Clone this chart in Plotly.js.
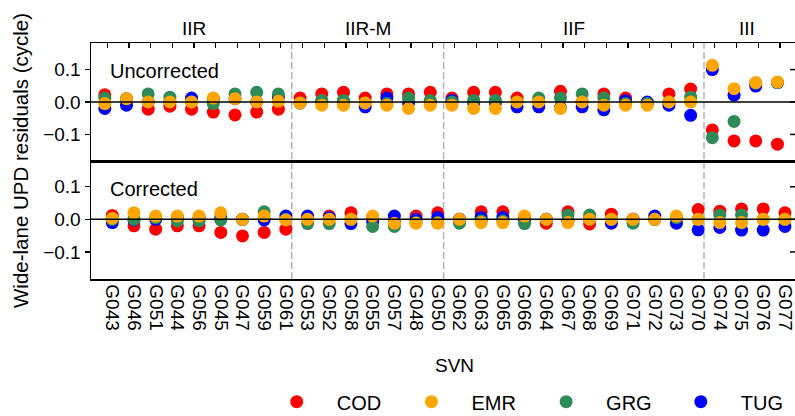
<!DOCTYPE html>
<html><head><meta charset="utf-8">
<script src="https://cdn.plot.ly/plotly-3.0.1.min.js"></script>
<style>html,body{margin:0;padding:0;overflow:hidden;background:#fff}#chart{width:798px;height:416px}</style>
</head><body><div id="chart"></div><script>
// ---- data ----
const svn = ['G043','G046','G051','G044','G056','G045','G047','G059','G061',
             'G053','G052','G058','G055','G057','G048','G050',
             'G062','G063','G065','G066','G064','G067','G068','G069','G071','G072','G073','G070',
             'G074','G075','G076','G077'];
const groupNames = ['IIR','IIR-M','IIF','III'];
const groupSizes = [9, 7, 12, 4];
const seriesNames = ['COD','EMR','GRG','TUG'];

// Uncorrected
const codUnc = [0.022,0.010,-0.022,-0.013,-0.022,-0.031,-0.040,-0.031,-0.022,
                0.012,0.025,0.030,0.012,0.025,0.025,0.030,
                0.012,0.030,0.030,0.012,0.000,0.033,0.000,0.025,0.012,-0.005,0.025,0.040,
                -0.086,-0.120,-0.120,-0.130];
const emrUnc = [-0.005,0.010,0.000,0.000,0.000,0.012,0.010,0.000,0.002,
                -0.003,-0.010,-0.010,-0.003,-0.010,-0.020,-0.010,
                -0.010,-0.020,-0.020,0.000,0.000,-0.020,0.000,-0.010,-0.010,-0.010,0.000,0.000,
                0.113,0.041,0.060,0.062];
const grgUnc = [0.012,0.010,0.025,0.015,0.000,-0.005,0.025,0.030,0.025,
                -0.003,0.005,0.005,-0.003,-0.005,0.012,0.005,
                0.000,0.005,0.005,0.000,0.012,0.012,0.025,0.012,-0.005,-0.005,0.000,0.015,
                -0.110,-0.060,0.058,0.060];
const tugUnc = [-0.020,-0.010,0.000,0.000,0.012,0.010,0.010,0.000,0.015,
                -0.003,0.000,0.000,-0.015,0.012,-0.003,0.000,
                0.005,-0.003,-0.003,-0.015,-0.015,-0.018,-0.015,-0.024,0.004,0.000,-0.010,-0.041,
                0.100,0.021,0.049,0.060];
// Corrected
const codCor = [0.012,-0.020,-0.030,-0.020,-0.020,-0.040,-0.051,-0.040,-0.030,
                0.005,0.010,0.020,0.005,-0.005,0.010,0.020,
                0.000,0.023,0.023,0.005,-0.012,0.023,-0.014,0.016,0.000,0.000,0.005,0.030,
                0.025,0.032,0.032,0.020];
const emrCor = [0.003,0.020,0.010,0.010,0.010,0.020,0.000,0.010,-0.002,
                0.000,0.000,0.000,0.010,-0.012,-0.012,-0.012,
                0.000,-0.010,-0.010,0.010,0.000,-0.010,0.000,0.000,0.000,0.000,0.010,0.000,
                -0.010,-0.010,0.000,0.000];
const grgCor = [0.000,0.000,0.005,-0.005,-0.005,-0.002,0.000,0.023,0.000,
                -0.013,-0.013,0.000,-0.022,-0.022,-0.010,-0.010,
                -0.012,-0.005,-0.005,-0.013,0.000,0.013,0.013,0.000,-0.012,0.000,0.005,0.000,
                0.013,0.013,0.000,0.000];
const tugCor = [-0.010,-0.002,0.000,0.005,0.005,0.005,0.000,-0.002,0.010,
                0.010,0.005,-0.013,-0.007,0.010,0.000,0.006,
                0.000,0.006,0.006,-0.002,0.000,-0.005,0.000,-0.012,0.000,0.010,-0.012,-0.032,
                -0.025,-0.033,-0.033,-0.022];

// ---- style ----
const colors = {COD:'#ff0000', EMR:'#ffa500', GRG:'#2e8b57', TUG:'#0000ff'};
const rank = {COD:1, EMR:2, GRG:3, TUG:4};
const FONT = 'Liberation Sans, Arial, Helvetica, sans-serif';
const unc = {COD:codUnc, EMR:emrUnc, GRG:grgUnc, TUG:tugUnc};
const cor = {COD:codCor, EMR:emrCor, GRG:grgCor, TUG:tugCor};
const drawOrder = ['COD','TUG','GRG','EMR'];

const traces = [];
drawOrder.forEach(n => {
  traces.push({type:'scatter', mode:'markers', name:n, x:svn, y:unc[n], xaxis:'x2', yaxis:'y2',
    marker:{color:colors[n], size:13, line:{width:0}}, legendrank:rank[n], showlegend:true});
});
drawOrder.forEach(n => {
  traces.push({type:'scatter', mode:'markers', name:n, x:svn, y:cor[n], xaxis:'x', yaxis:'y',
    marker:{color:colors[n], size:13, line:{width:0}}, legendrank:rank[n], showlegend:false});
});

const idx = svn.map((_, i) => i);
const yTicks = [-0.1, 0, 0.1];
const axLine = {showline:true, linecolor:'#000', linewidth:1.5, mirror:true, showgrid:false, zeroline:false};

// group boundaries and centres
const bounds = [], centres = [];
let acc = 0;
groupSizes.forEach((s, k) => {
  centres.push(acc + (s - 1) / 2);
  acc += s;
  if (k < groupSizes.length - 1) bounds.push(acc - 0.5);
});

const shapes = [];
bounds.forEach(b => shapes.push({type:'line', xref:'x3', x0:b, x1:b, yref:'paper', y0:0, y1:1,
  line:{color:'#b4b4b4', width:1.5, dash:'7px,3px'}, layer:'below'}));
['y','y2'].forEach(ya => shapes.push({type:'line', xref:'paper', x0:0, x1:1, yref:ya, y0:0, y1:0,
  line:{color:'#000', width:1.5}, layer:'above'}));
// inward ticks on the right spine of both panels
['y','y2'].forEach(ya => yTicks.forEach(t => shapes.push({type:'line', xref:'paper', xsizemode:'pixel',
  xanchor:1, x0:-6, x1:0, yref:ya, y0:t, y1:t, line:{color:'#000', width:1.5}, layer:'above'})));

const annotations = [];
groupNames.forEach((g, k) => annotations.push({text:g, xref:'x3', x:centres[k], xanchor:'center',
  yref:'paper', y:1.062, yanchor:'middle', showarrow:false, font:{size:19}}));
annotations.push({text:'Uncorrected', xref:'paper', x:0.024, xanchor:'left', yref:'y2 domain', y:0.76,
  yanchor:'middle', showarrow:false, font:{size:20}});
annotations.push({text:'Corrected', xref:'paper', x:0.024, xanchor:'left', yref:'y domain', y:0.76,
  yanchor:'middle', showarrow:false, font:{size:20}});
annotations.push({text:'SVN', xref:'paper', x:0.515, xanchor:'center', yref:'paper', y:-0.365,
  yanchor:'middle', showarrow:false, font:{size:19}});
annotations.push({text:'Wide-lane UPD residuals (cycle)', xref:'paper', x:-0.1007, xanchor:'center',
  yref:'paper', y:0.5, yanchor:'middle', textangle:-90, showarrow:false, font:{size:20.5}});

const layout = {
  width:798, height:416,
  margin:{l:91, r:2, t:43, b:137, autoexpand:false},
  paper_bgcolor:'#fff', plot_bgcolor:'#fff',
  font:{family:FONT, color:'#000', size:19},
  xaxis:Object.assign({}, axLine, {domain:[0,1], anchor:'y', type:'category', categoryorder:'array',
    categoryarray:svn, range:[-0.981, 31.51], ticks:'', tickmode:'array', tickvals:svn, ticktext:svn,
    tickangle:90, tickfont:{size:19}, automargin:false}),
  xaxis2:Object.assign({}, axLine, {domain:[0,1], anchor:'y2', type:'category', categoryorder:'array',
    categoryarray:svn, range:[-0.636, 31.855], ticks:'', showticklabels:false}),
  xaxis3:{overlaying:'x2', anchor:'y2', side:'top', range:[-0.751, 31.74], tickvals:idx,
    ticks:'inside', ticklen:5, tickwidth:1.2, tickcolor:'#000', showticklabels:false,
    showline:false, showgrid:false, zeroline:false},
  yaxis:Object.assign({}, axLine, {domain:[0,0.5], anchor:'x', range:[-0.183, 0.179], tickvals:yTicks,
    tickformat:'.1f', ticks:'outside', ticklen:5, tickwidth:1.2, tickcolor:'#000', tickfont:{size:19}}),
  yaxis2:Object.assign({}, axLine, {domain:[0.5,1], anchor:'x2', range:[-0.182, 0.182], tickvals:yTicks,
    tickformat:'.1f', ticks:'outside', ticklen:5, tickwidth:1.2, tickcolor:'#000', tickfont:{size:19}}),
  showlegend:true,
  legend:{orientation:'h', xref:'container', yref:'container', x:0.3217, xanchor:'left',
    y:0.0344, yanchor:'middle', font:{size:20}, itemwidth:70, entrywidth:49.7,
    bgcolor:'rgba(0,0,0,0)', borderwidth:0},
  shapes:shapes, annotations:annotations
};
// empty helper trace so the top tick axis is drawn
traces.push({type:'scatter', mode:'markers', x:[null], y:[null], xaxis:'x3', yaxis:'y2', showlegend:false, hoverinfo:'skip'});

Plotly.newPlot('chart', traces, layout, {staticPlot:true, displayModeBar:false});
</script></body></html>
